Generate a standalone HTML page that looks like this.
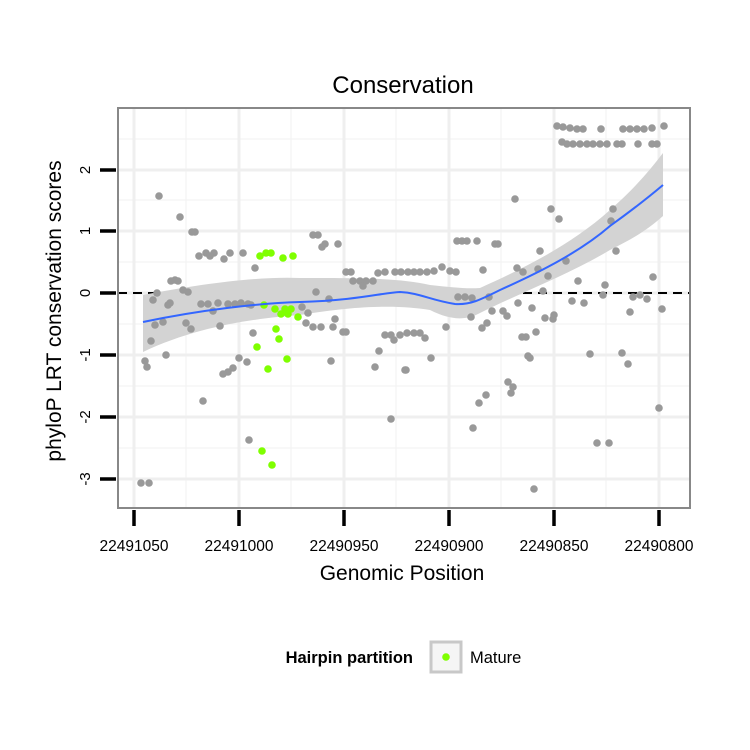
<!DOCTYPE html>
<html><head><meta charset="utf-8"><style>body{margin:0;background:#fff}svg{display:block}text{font-family:"Liberation Sans",sans-serif}</style></head><body>
<svg width="750" height="750" viewBox="0 0 750 750">
<rect width="750" height="750" fill="#fff"/>
<g stroke="#f3f3f3" stroke-width="1.2">
<line x1="186" y1="108" x2="186" y2="508"/><line x1="291" y1="108" x2="291" y2="508"/><line x1="396" y1="108" x2="396" y2="508"/><line x1="501" y1="108" x2="501" y2="508"/><line x1="606" y1="108" x2="606" y2="508"/>
<line x1="118" y1="448" x2="690" y2="448"/><line x1="118" y1="386" x2="690" y2="386"/><line x1="118" y1="324" x2="690" y2="324"/><line x1="118" y1="262" x2="690" y2="262"/><line x1="118" y1="200" x2="690" y2="200"/><line x1="118" y1="139" x2="690" y2="139"/>
</g>
<g stroke="#efefef" stroke-width="3">
<line x1="134" y1="108" x2="134" y2="508"/><line x1="239" y1="108" x2="239" y2="508"/><line x1="344" y1="108" x2="344" y2="508"/><line x1="449" y1="108" x2="449" y2="508"/><line x1="554" y1="108" x2="554" y2="508"/><line x1="659" y1="108" x2="659" y2="508"/>
<line x1="118" y1="479" x2="690" y2="479"/><line x1="118" y1="417" x2="690" y2="417"/><line x1="118" y1="355" x2="690" y2="355"/><line x1="118" y1="293" x2="690" y2="293"/><line x1="118" y1="231" x2="690" y2="231"/><line x1="118" y1="170" x2="690" y2="170"/>
</g>
<line x1="118" y1="293" x2="690" y2="293" stroke="#000" stroke-width="2" stroke-dasharray="9,6"/>
<path d="M143,295 C200,284 260,276 300,278 C360,278 400,278 430,285 C450,287 465,289 480,288 C520,270 570,246 610,210 C635,188 650,170 663,153 L663,216 C645,232 630,240 610,250 C570,274 520,293 480,313 C465,321 450,320 430,310 C400,305 360,305 300,315 C260,318 200,325 143,352 Z" fill="#d3d3d3"/>
<g fill="#999999">
<circle cx="159" cy="196" r="3.8"/><circle cx="180" cy="217" r="3.8"/><circle cx="192" cy="232" r="3.8"/><circle cx="195" cy="232" r="3.8"/><circle cx="199" cy="256" r="3.8"/><circle cx="206" cy="253" r="3.8"/><circle cx="214" cy="253" r="3.8"/><circle cx="210" cy="256" r="3.8"/><circle cx="224" cy="259" r="3.8"/><circle cx="230" cy="253" r="3.8"/><circle cx="243" cy="253" r="3.8"/><circle cx="255" cy="268" r="3.8"/><circle cx="313" cy="235" r="3.8"/><circle cx="318" cy="235" r="3.8"/><circle cx="325" cy="244" r="3.8"/><circle cx="322" cy="247" r="3.8"/><circle cx="338" cy="244" r="3.8"/><circle cx="171" cy="281" r="3.8"/><circle cx="175" cy="280" r="3.8"/><circle cx="178" cy="281" r="3.8"/><circle cx="157" cy="293" r="3.8"/><circle cx="153" cy="300" r="3.8"/><circle cx="168" cy="305" r="3.8"/><circle cx="170" cy="303" r="3.8"/><circle cx="183" cy="290" r="3.8"/><circle cx="188" cy="292" r="3.8"/><circle cx="201" cy="304" r="3.8"/><circle cx="208" cy="304" r="3.8"/><circle cx="218" cy="303" r="3.8"/><circle cx="213" cy="311" r="3.8"/><circle cx="228" cy="304" r="3.8"/><circle cx="235" cy="304" r="3.8"/><circle cx="241" cy="303" r="3.8"/><circle cx="248" cy="304" r="3.8"/><circle cx="251" cy="305" r="3.8"/><circle cx="155" cy="325" r="3.8"/><circle cx="163" cy="322" r="3.8"/><circle cx="186" cy="323" r="3.8"/><circle cx="191" cy="329" r="3.8"/><circle cx="220" cy="326" r="3.8"/><circle cx="151" cy="341" r="3.8"/><circle cx="166" cy="355" r="3.8"/><circle cx="145" cy="361" r="3.8"/><circle cx="147" cy="367" r="3.8"/><circle cx="253" cy="333" r="3.8"/><circle cx="247" cy="362" r="3.8"/><circle cx="239" cy="358" r="3.8"/><circle cx="233" cy="368" r="3.8"/><circle cx="228" cy="372" r="3.8"/><circle cx="223" cy="374" r="3.8"/><circle cx="203" cy="401" r="3.8"/><circle cx="249" cy="440" r="3.8"/><circle cx="141" cy="483" r="3.8"/><circle cx="149" cy="483" r="3.8"/><circle cx="316" cy="292" r="3.8"/><circle cx="329" cy="299" r="3.8"/><circle cx="302" cy="307" r="3.8"/><circle cx="308" cy="313" r="3.8"/><circle cx="306" cy="323" r="3.8"/><circle cx="313" cy="327" r="3.8"/><circle cx="321" cy="327" r="3.8"/><circle cx="335" cy="319" r="3.8"/><circle cx="333" cy="327" r="3.8"/><circle cx="343" cy="332" r="3.8"/><circle cx="346" cy="332" r="3.8"/><circle cx="331" cy="361" r="3.8"/><circle cx="375" cy="367" r="3.8"/><circle cx="379" cy="351" r="3.8"/><circle cx="391" cy="419" r="3.8"/><circle cx="405" cy="370" r="3.8"/><circle cx="346" cy="272" r="3.8"/><circle cx="351" cy="272" r="3.8"/><circle cx="353" cy="281" r="3.8"/><circle cx="360" cy="281" r="3.8"/><circle cx="366" cy="281" r="3.8"/><circle cx="373" cy="281" r="3.8"/><circle cx="363" cy="286" r="3.8"/><circle cx="378" cy="273" r="3.8"/><circle cx="385" cy="272" r="3.8"/><circle cx="395" cy="272" r="3.8"/><circle cx="401" cy="272" r="3.8"/><circle cx="408" cy="272" r="3.8"/><circle cx="414" cy="272" r="3.8"/><circle cx="420" cy="272" r="3.8"/><circle cx="427" cy="272" r="3.8"/><circle cx="434" cy="271" r="3.8"/><circle cx="442" cy="267" r="3.8"/><circle cx="450" cy="271" r="3.8"/><circle cx="456" cy="272" r="3.8"/><circle cx="385" cy="335" r="3.8"/><circle cx="391" cy="335" r="3.8"/><circle cx="400" cy="335" r="3.8"/><circle cx="394" cy="340" r="3.8"/><circle cx="407" cy="333" r="3.8"/><circle cx="414" cy="333" r="3.8"/><circle cx="420" cy="333" r="3.8"/>
<circle cx="557" cy="126" r="3.8"/><circle cx="563" cy="127" r="3.8"/><circle cx="570" cy="128" r="3.8"/><circle cx="577" cy="129" r="3.8"/><circle cx="583" cy="129" r="3.8"/><circle cx="601" cy="129" r="3.8"/><circle cx="623" cy="129" r="3.8"/><circle cx="630" cy="129" r="3.8"/><circle cx="637" cy="129" r="3.8"/><circle cx="644" cy="129" r="3.8"/><circle cx="652" cy="128" r="3.8"/><circle cx="664" cy="126" r="3.8"/>
<circle cx="562" cy="142" r="3.8"/><circle cx="567" cy="144" r="3.8"/><circle cx="573" cy="144" r="3.8"/><circle cx="580" cy="144" r="3.8"/><circle cx="587" cy="144" r="3.8"/><circle cx="593" cy="144" r="3.8"/><circle cx="600" cy="144" r="3.8"/><circle cx="607" cy="144" r="3.8"/><circle cx="617" cy="144" r="3.8"/><circle cx="622" cy="144" r="3.8"/><circle cx="638" cy="144" r="3.8"/><circle cx="652" cy="144" r="3.8"/><circle cx="657" cy="144" r="3.8"/>
<circle cx="515" cy="199" r="3.8"/><circle cx="551" cy="209" r="3.8"/><circle cx="559" cy="219" r="3.8"/><circle cx="613" cy="209" r="3.8"/><circle cx="611" cy="221" r="3.8"/><circle cx="616" cy="251" r="3.8"/><circle cx="457" cy="241" r="3.8"/><circle cx="462" cy="241" r="3.8"/><circle cx="467" cy="241" r="3.8"/><circle cx="477" cy="241" r="3.8"/><circle cx="495" cy="244" r="3.8"/><circle cx="498" cy="244" r="3.8"/><circle cx="540" cy="251" r="3.8"/><circle cx="483" cy="270" r="3.8"/><circle cx="517" cy="268" r="3.8"/><circle cx="523" cy="272" r="3.8"/><circle cx="538" cy="269" r="3.8"/><circle cx="548" cy="276" r="3.8"/><circle cx="566" cy="261" r="3.8"/><circle cx="578" cy="281" r="3.8"/><circle cx="605" cy="285" r="3.8"/><circle cx="653" cy="277" r="3.8"/><circle cx="458" cy="297" r="3.8"/><circle cx="465" cy="297" r="3.8"/><circle cx="472" cy="298" r="3.8"/><circle cx="489" cy="297" r="3.8"/><circle cx="543" cy="291" r="3.8"/><circle cx="518" cy="303" r="3.8"/><circle cx="532" cy="308" r="3.8"/><circle cx="572" cy="301" r="3.8"/><circle cx="584" cy="303" r="3.8"/><circle cx="603" cy="295" r="3.8"/><circle cx="633" cy="297" r="3.8"/><circle cx="640" cy="295" r="3.8"/><circle cx="647" cy="299" r="3.8"/><circle cx="630" cy="312" r="3.8"/><circle cx="662" cy="309" r="3.8"/><circle cx="471" cy="317" r="3.8"/><circle cx="492" cy="311" r="3.8"/><circle cx="503" cy="311" r="3.8"/><circle cx="507" cy="316" r="3.8"/><circle cx="482" cy="328" r="3.8"/><circle cx="487" cy="323" r="3.8"/><circle cx="545" cy="318" r="3.8"/><circle cx="553" cy="319" r="3.8"/><circle cx="554" cy="315" r="3.8"/><circle cx="446" cy="327" r="3.8"/><circle cx="425" cy="338" r="3.8"/><circle cx="522" cy="337" r="3.8"/><circle cx="526" cy="337" r="3.8"/><circle cx="536" cy="332" r="3.8"/><circle cx="528" cy="356" r="3.8"/><circle cx="530" cy="358" r="3.8"/><circle cx="431" cy="358" r="3.8"/><circle cx="406" cy="370" r="3.8"/><circle cx="590" cy="354" r="3.8"/><circle cx="622" cy="353" r="3.8"/><circle cx="628" cy="364" r="3.8"/><circle cx="508" cy="382" r="3.8"/><circle cx="513" cy="387" r="3.8"/><circle cx="511" cy="393" r="3.8"/><circle cx="486" cy="395" r="3.8"/><circle cx="479" cy="403" r="3.8"/><circle cx="473" cy="428" r="3.8"/><circle cx="659" cy="408" r="3.8"/><circle cx="597" cy="443" r="3.8"/><circle cx="609" cy="443" r="3.8"/><circle cx="534" cy="489" r="3.8"/>
</g>
<g fill="#7fff00">
<circle cx="260" cy="256" r="3.8"/><circle cx="266" cy="253" r="3.8"/><circle cx="271" cy="253" r="3.8"/><circle cx="283" cy="258" r="3.8"/><circle cx="293" cy="256" r="3.8"/><circle cx="264" cy="305" r="3.8"/><circle cx="275" cy="309" r="3.8"/><circle cx="281" cy="314" r="3.8"/><circle cx="285" cy="309" r="3.8"/><circle cx="291" cy="309" r="3.8"/><circle cx="288" cy="314" r="3.8"/><circle cx="298" cy="317" r="3.8"/><circle cx="276" cy="329" r="3.8"/><circle cx="279" cy="339" r="3.8"/><circle cx="257" cy="347" r="3.8"/><circle cx="287" cy="359" r="3.8"/><circle cx="268" cy="369" r="3.8"/><circle cx="262" cy="451" r="3.8"/><circle cx="272" cy="465" r="3.8"/>
</g>
<path d="M143,322 C200,310 260,303 300,302 C360,300 380,293 400,292 C420,293 430,300 455,304 C470,305 480,300 500,290 C540,272 580,252 610,226 C635,208 650,196 663,185" fill="none" stroke="#3366ff" stroke-width="2"/>
<rect x="118" y="108" width="572" height="400" fill="none" stroke="#888" stroke-width="2"/>
<g stroke="#000" stroke-width="3.5">
<line x1="100" y1="479" x2="116" y2="479"/><line x1="100" y1="417" x2="116" y2="417"/><line x1="100" y1="355" x2="116" y2="355"/><line x1="100" y1="293" x2="116" y2="293"/><line x1="100" y1="231" x2="116" y2="231"/><line x1="100" y1="170" x2="116" y2="170"/>
<line x1="134" y1="510" x2="134" y2="526"/><line x1="239" y1="510" x2="239" y2="526"/><line x1="344" y1="510" x2="344" y2="526"/><line x1="449" y1="510" x2="449" y2="526"/><line x1="554" y1="510" x2="554" y2="526"/><line x1="659" y1="510" x2="659" y2="526"/>
</g>
<g font-size="15" text-anchor="middle" fill="#000">
<text transform="translate(90,479) rotate(-90)">-3</text><text transform="translate(90,417) rotate(-90)">-2</text><text transform="translate(90,355) rotate(-90)">-1</text><text transform="translate(90,293) rotate(-90)">0</text><text transform="translate(90,231) rotate(-90)">1</text><text transform="translate(90,170) rotate(-90)">2</text>
</g>
<g font-size="15.5" text-anchor="middle" fill="#000">
<text x="134" y="551">22491050</text><text x="239" y="551">22491000</text><text x="344" y="551">22490950</text><text x="449" y="551">22490900</text><text x="554" y="551">22490850</text><text x="659" y="551">22490800</text>
</g>
<text x="403" y="93" font-size="24" text-anchor="middle">Conservation</text>
<text x="402" y="580" font-size="21" text-anchor="middle">Genomic Position</text>
<text transform="translate(61,311) rotate(-90)" font-size="21" text-anchor="middle">phyloP LRT conservation scores</text>
<text x="413" y="663" font-size="16.5" font-weight="bold" text-anchor="end">Hairpin partition</text>
<rect x="431" y="642" width="30" height="30" fill="#f5f5f5" stroke="#c8c8c8" stroke-width="3"/>
<circle cx="446" cy="657" r="3.8" fill="#7fff00"/>
<text x="470" y="663" font-size="16.5">Mature</text>
</svg>
</body></html>
